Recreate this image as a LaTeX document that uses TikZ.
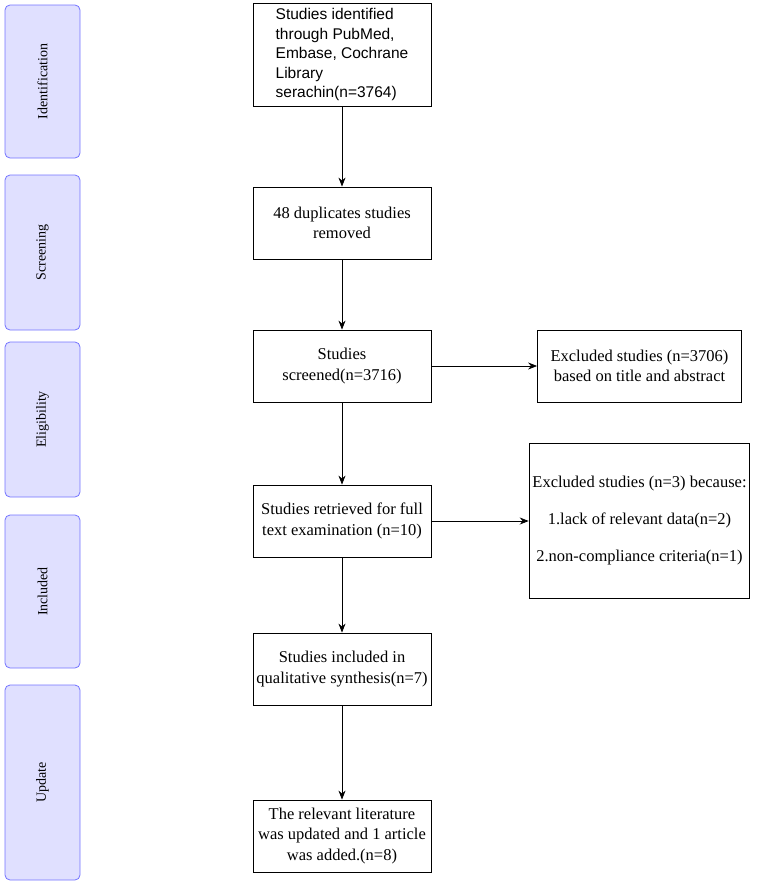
\documentclass[tikz,border=0pt]{standalone}
\usepackage{fontspec}
\setmainfont{Liberation Serif}
\newfontfamily\sansfont{Liberation Sans}
\usetikzlibrary{arrows.meta, positioning}

\begin{document}
\begin{tikzpicture}[
    x=1pt, y=1pt,
    stage/.style={rectangle, rounded corners=5pt, draw=blue!55, fill=blue!12, thick, minimum height=75pt, rotate=90, anchor=center, font=\fontsize{14}{16}\selectfont},
    box/.style={rectangle, draw=black, thick, minimum width=178pt, align=center, font=\fontsize{16.5}{20.5}\selectfont},
    side/.style={rectangle, draw=black, thick, minimum width=204pt, align=center, font=\fontsize{16.5}{20.5}\selectfont},
    arrow/.style={-{Stealth[length=9pt,width=7pt]}, thick}
]
\useasboundingbox (0,0) rectangle (768,-886);

% Stages
\node[stage, minimum width=153pt] (ident) at (42.5,-81.5) {Identification};
\node[stage, minimum width=155pt] (scr) at (42.5,-252.5) {Screening};
\node[stage, minimum width=155pt] (elig) at (42.5,-419.5) {Eligibility};
\node[stage, minimum width=153pt] (incl) at (42.5,-591.5) {Included};
\node[stage, minimum width=195pt] (upd) at (42.5,-782.5) {Update};

% Main column
\node[box, minimum height=103pt, align=left, font=\sansfont\fontsize{15.5}{19.5}\selectfont] (ident1) at (342,-54.5) {Studies identified\\through PubMed,\\Embase, Cochrane\\Library\\serachin(n=3764)};
\node[box, minimum height=72pt] (dup) at (342,-223) {48 duplicates studies\\removed};
\node[box, minimum height=72pt] (screen) at (342,-366) {Studies\\screened(n=3716)};
\node[box, minimum height=72pt] (full) at (342,-521) {Studies retrieved for full\\text examination (n=10)};
\node[box, minimum height=72pt] (qual) at (342,-669) {Studies included in\\qualitative synthesis(n=7)};
\node[box, minimum height=72pt] (update) at (342,-836) {The relevant literature\\was updated and 1 article\\was added.(n=8)};

% Side column
\node[side, minimum height=72pt] (excl1) at (639.5,-366) {Excluded studies (n=3706)\\based on title and abstract};
\node[side, minimum height=155pt, font=\fontsize{16.5}{37}\selectfont] (excl2) at (639.5,-520.5) {Excluded studies (n=3) because:\\1.lack of relevant data(n=2)\\2.non-compliance criteria(n=1)};

% Arrows
\draw[arrow] (ident1) -- (dup);
\draw[arrow] (dup) -- (screen);
\draw[arrow] (screen) -- (full);
\draw[arrow] (full) -- (qual);
\draw[arrow] (qual) -- (update);
\draw[arrow] (screen.east) -- (excl1.west |- screen.east);
\draw[arrow] (full.east) -- (excl2.west |- full.east);

\end{tikzpicture}
\end{document}
